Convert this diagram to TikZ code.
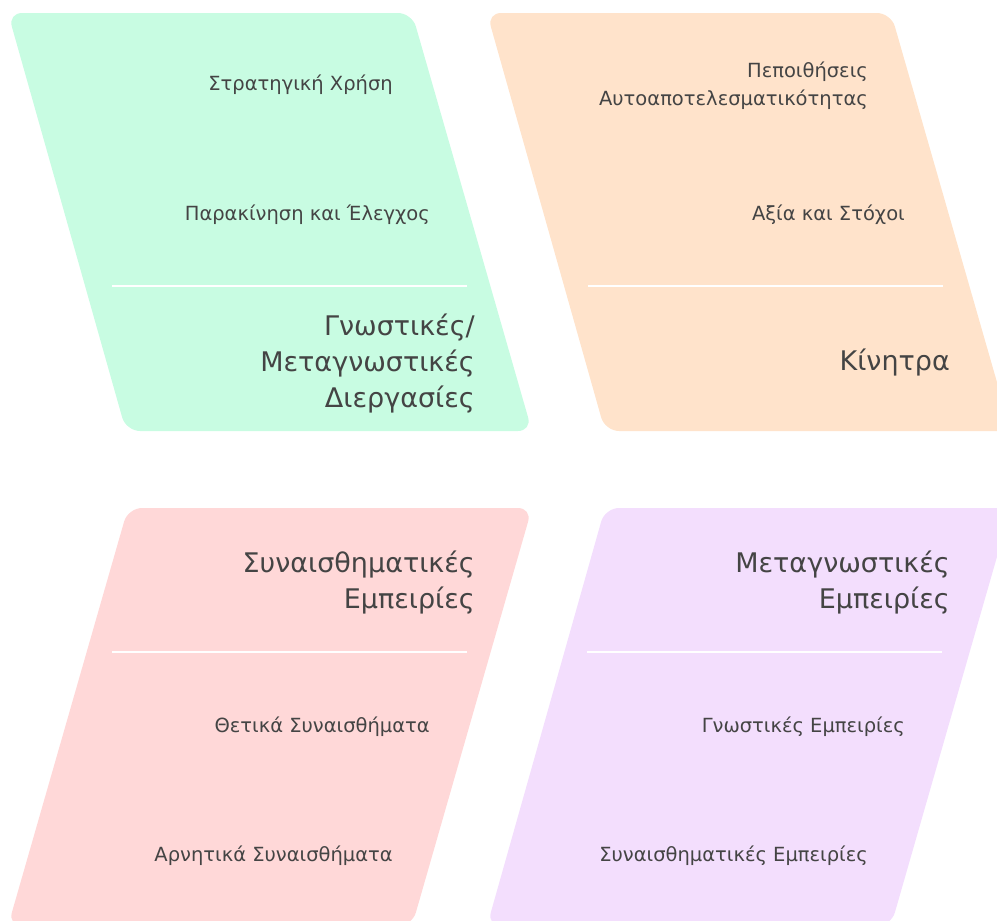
\documentclass[tikz,border=0pt]{standalone}
\usepackage{fontspec}
\setmainfont{DejaVu Sans}
\newfontfamily\titlefont{DejaVu Sans}
\definecolor{cgreen}{RGB}{200,252,226}
\definecolor{corange}{RGB}{255,227,203}
\definecolor{cpink}{RGB}{255,216,216}
\definecolor{cpurple}{RGB}{243,222,253}
\definecolor{ctext}{RGB}{68,68,68}
\tikzset{
  panel/.style={rounded corners=14pt},
  divider/.style={draw=white, line width=2pt},
  small/.style={anchor=east, text=ctext, inner sep=0pt, align=right, font=\fontsize{19.5}{28}\selectfont},
  title/.style={anchor=east, text=ctext, inner sep=0pt, align=right, font=\titlefont\fontsize{27}{36}\selectfont},
}
\begin{document}
\begin{tikzpicture}[x=1pt,y=-1pt]
\useasboundingbox (0,0) rectangle (997,921);
\clip (0,0) rectangle (997,921);
% panels
\fill[cgreen, panel] (8,13) -- (412,13) -- (532,431) -- (126,431) -- cycle;
\fill[corange, panel] (487,13) -- (891,13) -- (1011,431) -- (605,431) -- cycle;
\fill[cpink, panel] (128,508) -- (532,508) -- (412,926) -- (8,926) -- cycle;
\fill[cpurple, panel] (605,508) -- (1011,508) -- (891,926) -- (487,926) -- cycle;
% dividers
\coordinate (g1) at (112,286); \coordinate (g2) at (467,286);
\coordinate (o1) at (588,286); \coordinate (o2) at (943,286);
\coordinate (p1) at (112,652); \coordinate (p2) at (467,652);
\coordinate (u1) at (587,652); \coordinate (u2) at (942,652);
\draw[divider] (g1) -- (g2);
\draw[divider] (o1) -- (o2);
\draw[divider] (p1) -- (p2);
\draw[divider] (u1) -- (u2);
% green
\node[small] (g_a) at (393,85) {Στρατηγική Χρήση};
\node[small] (g_b) at (430,215) {Παρακίνηση και Έλεγχος};
\node[title] (g_t) at (475,364) {Γνωστικές/\\Μεταγνωστικές\\Διεργασίες};
% orange
\node[small] (o_a) at (868,86) {Πεποιθήσεις\\Αυτοαποτελεσματικότητας};
\node[small] (o_b) at (905,215) {Αξία και Στόχοι};
\node[title] (o_t) at (950,363) {Κίνητρα};
% pink
\node[title] (p_t) at (475,583) {Συναισθηματικές\\Εμπειρίες};
\node[small] (p_a) at (430,727) {Θετικά Συναισθήματα};
\node[small] (p_b) at (393,856) {Αρνητικά Συναισθήματα};
% purple
\node[title] (u_t) at (950,583) {Μεταγνωστικές\\Εμπειρίες};
\node[small] (u_a) at (905,727) {Γνωστικές Εμπειρίες};
\node[small] (u_b) at (868,856) {Συναισθηματικές Εμπειρίες};
\end{tikzpicture}
\end{document}
